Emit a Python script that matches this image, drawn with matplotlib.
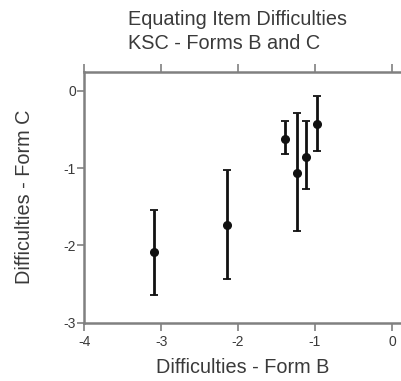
import numpy as np
import matplotlib
matplotlib.use("Agg")
import matplotlib.pyplot as plt

plt.rcParams['font.family'] = ['Liberation Sans', 'DejaVu Sans']
plt.rcParams['axes.unicode_minus'] = False

# difficulties
form_b = [-3.09, -2.15, -1.39, -1.23, -1.12, -0.98]
form_c = [-2.085, -1.73, -0.62, -1.065, -0.85, -0.43]
err_low = [0.555, 0.71, 0.20, 0.745, 0.42, 0.35]
err_high = [0.545, 0.71, 0.23, 0.775, 0.46, 0.36]

x_ticks = [-4, -3, -2, -1, 0]
y_ticks = [-3, -2, -1, 0]

fig = plt.figure(figsize=(4.02, 3.81), dpi=100)
ax = fig.add_axes([0.2097, 0.153, 0.79, 0.659])

ax.errorbar(form_b, form_c, yerr=[err_low, err_high], fmt='o', color='#111111',
            ms=5.5, elinewidth=2, capsize=3, capthick=1.3)

ax.set_xlim(-4, 0.13)
ax.set_ylim(-3, 0.25)
ax.set_xticks(x_ticks)
ax.set_yticks(y_ticks)

grey = '#808080'
for side in ['left', 'bottom', 'top']:
    ax.spines[side].set_color(grey)
    ax.spines[side].set_linewidth(1.8)
ax.spines['right'].set_visible(False)

txt = '#3a3a3a'
ax.tick_params(axis='both', colors=grey, labelcolor=txt, labelsize=10, width=1.2)
ax.tick_params(axis='x', top=True, length=6, pad=3)
ax.tick_params(axis='y', length=5, pad=1)

ax.set_xlabel('Difficulties - Form B', fontsize=14.3, color=txt, va='center')
ax.set_ylabel('Difficulties - Form C', fontsize=14.3, color=txt, va='center')
ax.xaxis.set_label_coords(0.5, -0.18)
ax.yaxis.set_label_coords(-0.187, 0.5)

fig.text(0.318, 0.950, 'Equating Item Difficulties', ha='left', va='center',
         fontsize=14.3, color=txt)
fig.text(0.318, 0.887, 'KSC - Forms B and C', ha='left', va='center',
         fontsize=14.3, color=txt)

fig.savefig('out.png', dpi=100)
